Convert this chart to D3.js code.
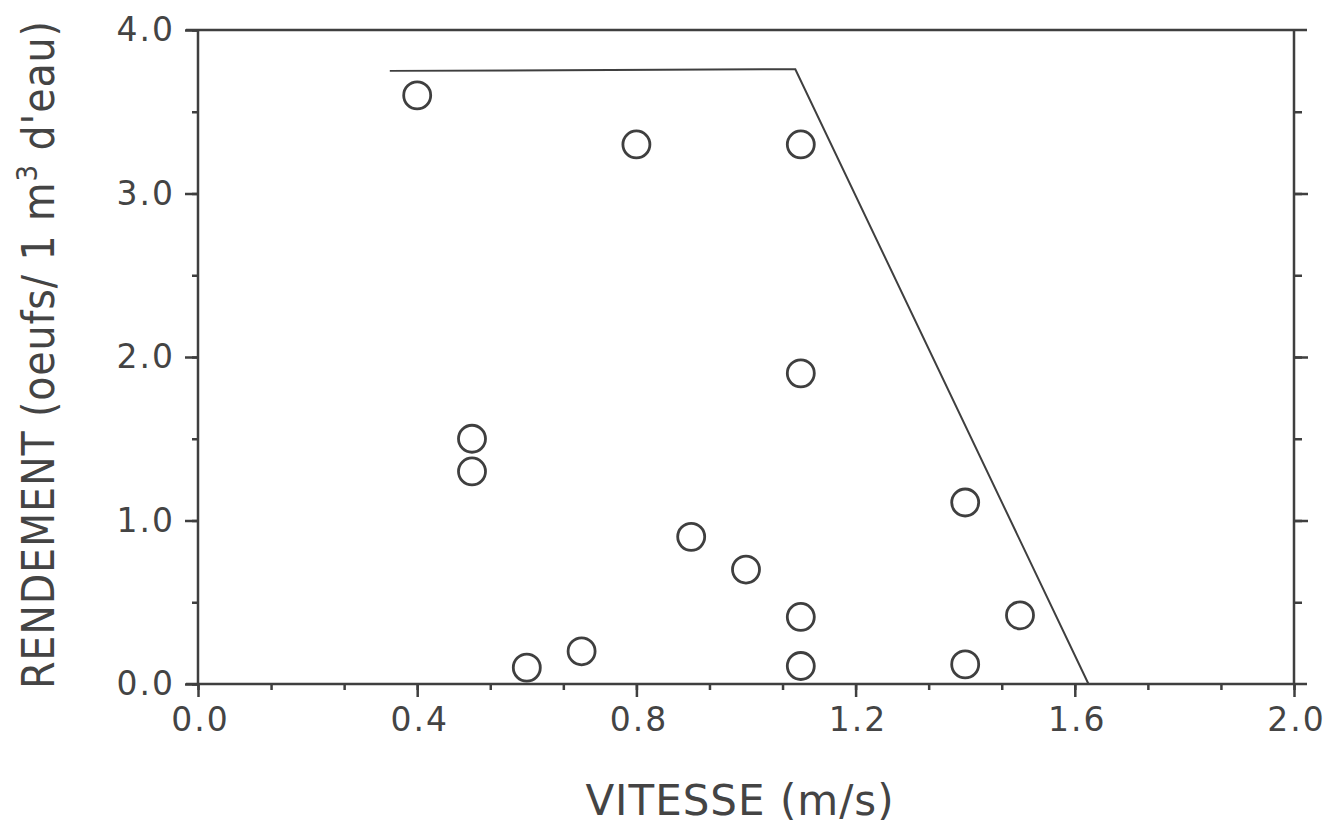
<!DOCTYPE html>
<html>
<head>
<meta charset="utf-8">
<script src="https://d3js.org/d3.v7.min.js"></script>
<style>
  body { margin: 0; background: #fff; }
  text { fill: #444; }
</style>
</head>
<body>
<div id="chart-area"></div>
<script>
// measured points: vitesse (m/s) vs rendement
var vitesse   = [0.4, 0.8, 1.1, 1.1, 0.5, 0.5, 1.4, 0.9, 1.0, 1.1, 1.5, 0.6, 0.7, 1.1, 1.4];
var rendement = [3.6, 3.3, 3.3, 1.9, 1.5, 1.3, 1.11, 0.9, 0.7, 0.41, 0.42, 0.1, 0.2, 0.11, 0.12];

// envelope line
var lineX = [0.35, 1.09, 1.625];
var lineY = [3.75, 3.76, 0.0];

var xTicks = [0.0, 0.4, 0.8, 1.2, 1.6, 2.0];
var yTicks = [0.0, 1.0, 2.0, 3.0, 4.0];

var width = 1328;
var height = 834;
var margin = {top: 30, right: 34, bottom: 150, left: 198};
var ink = "#3f3f3f";

var svg = d3.select("#chart-area")
    .append("svg")
    .attr("width", width)
    .attr("height", height);

var x = d3.scaleLinear()
    .domain([0, 2])
    .range([margin.left, width - margin.right]);

var y = d3.scaleLinear()
    .domain([0, 4])
    .range([height - margin.bottom, margin.top]);

var fmt = d3.format(".1f");

function styleAxis(sel) {
    sel.selectAll("line").attr("stroke", ink).attr("stroke-width", 2.5);
    sel.selectAll("path").remove();
    sel.selectAll("text")
        .attr("font-family", "'DejaVu Sans', sans-serif")
        .attr("font-size", "33px")
        .attr("fill", "#444")
        .attr("letter-spacing", "2px");
}

// minor ticks
var xMinor = d3.range(0, 16).map(function(i) { return i * 0.4 / 3; });
svg.append("g")
    .attr("transform", "translate(0," + y(0) + ")")
    .call(d3.axisBottom(x).tickValues(xMinor).tickSize(6).tickFormat(""))
    .call(styleAxis);

svg.append("g")
    .attr("transform", "translate(" + x(0) + ",0)")
    .call(d3.axisLeft(y).tickValues(d3.range(0, 4.01, 0.5)).tickSize(6).tickFormat(""))
    .call(styleAxis);

svg.append("g")
    .attr("transform", "translate(" + x(2) + ",0)")
    .call(d3.axisRight(y).tickValues(d3.range(0.5, 4, 0.5)).tickSize(8).tickFormat(""))
    .call(styleAxis);

svg.append("g")
    .attr("transform", "translate(" + x(2) + ",0)")
    .call(d3.axisRight(y).tickValues([1, 2, 3]).tickSize(14).tickFormat(""))
    .call(styleAxis);

// major ticks with labels
svg.append("g")
    .attr("transform", "translate(0," + y(0) + ")")
    .call(d3.axisBottom(x).tickValues(xTicks).tickSize(13).tickPadding(11).tickFormat(fmt))
    .call(styleAxis)
    .selectAll("text").attr("dx", "2px");

svg.append("g")
    .attr("transform", "translate(" + x(0) + ",0)")
    .call(d3.axisLeft(y).tickValues(yTicks).tickSize(13).tickPadding(10).tickFormat(fmt))
    .call(styleAxis);

// frame lines
var ext = 12;
svg.append("line")
    .attr("x1", x(0) - ext).attr("x2", x(2) + ext + 1)
    .attr("y1", y(0)).attr("y2", y(0))
    .attr("stroke", ink).attr("stroke-width", 2.5);
svg.append("line")
    .attr("x1", x(0) - ext).attr("x2", x(2) + ext + 1)
    .attr("y1", y(4)).attr("y2", y(4))
    .attr("stroke", ink).attr("stroke-width", 2.5);
svg.append("line")
    .attr("x1", x(0)).attr("x2", x(0))
    .attr("y1", y(0)).attr("y2", y(4))
    .attr("stroke", ink).attr("stroke-width", 2.5);
svg.append("line")
    .attr("x1", x(2)).attr("x2", x(2))
    .attr("y1", y(0)).attr("y2", y(4))
    .attr("stroke", ink).attr("stroke-width", 2.5);

// envelope
var lineData = lineX.map(function(d, i) { return [d, lineY[i]]; });
svg.append("path")
    .datum(lineData)
    .attr("fill", "none")
    .attr("stroke", ink)
    .attr("stroke-width", 2)
    .attr("d", d3.line()
        .x(function(d) { return x(d[0]); })
        .y(function(d) { return y(d[1]); }));

// points
var pts = vitesse.map(function(d, i) { return {v: d, r: rendement[i]}; });
svg.selectAll("circle.pt").data(pts)
    .enter()
    .append("circle")
        .attr("class", "pt")
        .attr("cx", function(d) { return x(d.v); })
        .attr("cy", function(d) { return y(d.r); })
        .attr("r", 13.5)
        .attr("fill", "none")
        .attr("stroke", ink)
        .attr("stroke-width", 2.8);

// x axis label
svg.append("text")
    .attr("x", 740)
    .attr("y", 815)
    .attr("font-family", "'DejaVu Sans', sans-serif")
    .attr("font-size", "42px")
    .attr("letter-spacing", "1px")
    .attr("text-anchor", "middle")
    .text("VITESSE (m/s)");

// y axis label
var yl = svg.append("text")
    .attr("transform", "translate(54," + 355 + ") rotate(-90)")
    .attr("font-family", "'Liberation Sans Narrow', 'DejaVu Sans Condensed', sans-serif")
    .attr("font-size", "44px")
    .attr("text-anchor", "middle")
    .attr("textLength", 668)
    .attr("lengthAdjust", "spacing");
yl.append("tspan").text("RENDEMENT (oeufs/ 1 m");
yl.append("tspan").attr("baseline-shift", "super").attr("font-size", "29px").text("3");
yl.append("tspan").text(" d'eau)");
</script>
</body>
</html>
